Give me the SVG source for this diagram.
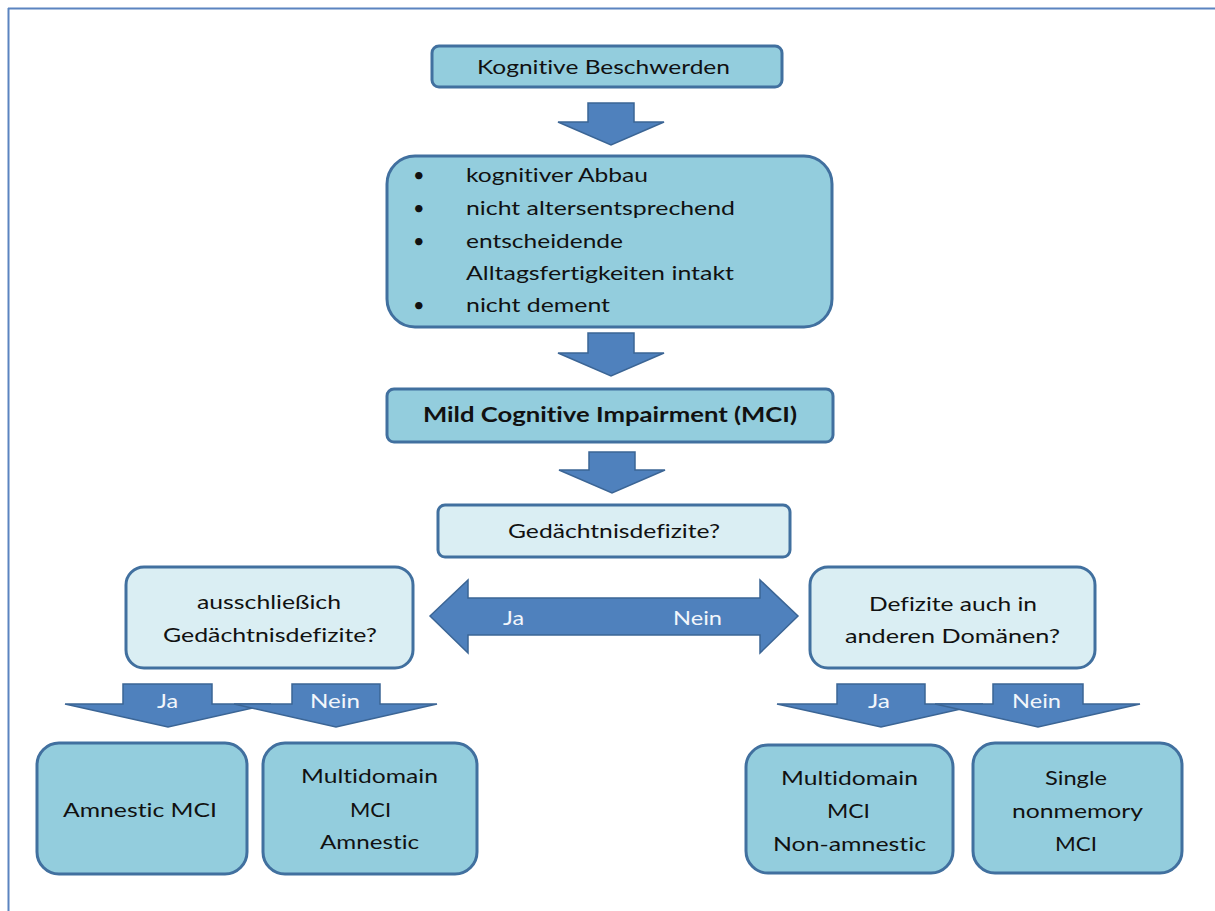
<svg xmlns="http://www.w3.org/2000/svg" width="1215" height="911" viewBox="0 0 1215 911">
<style>
  .box{fill:#93cddd;stroke:#41709f;stroke-width:3}
  .q{fill:#daeef3;stroke:#41709f;stroke-width:3}
  .arr{fill:#4f81bd;stroke:#3b6595;stroke-width:1.5;stroke-linejoin:miter}
  text{font-family:Lato,"Open Sans","Liberation Sans",sans-serif;font-size:20px;fill:#111;font-variant-ligatures:none;font-feature-settings:"liga" 0}
  .b{font-weight:bold}
  .w{fill:#f2f6fb;font-size:19px}
</style>
<rect x="0" y="0" width="1215" height="911" fill="#ffffff"/>
<g id="frame">
  <line x1="8" y1="8.5" x2="1215" y2="8.5" stroke="#5b84c0" stroke-width="2"/>
  <line x1="8.5" y1="8" x2="8.5" y2="911" stroke="#5b84c0" stroke-width="2"/>
</g>
<g id="connectors">
  <path class="arr" d="M588,103 H634 V122 H664 L611,145 L558,122 H588 Z"/>
  <path class="arr" d="M588,333 H634 V353 H664 L611,376 L558,353 H588 Z"/>
  <path class="arr" d="M589,452 H635 V470 H665 L612,493 L559,470 H589 Z"/>
  <path class="arr" d="M430,616 L468,580 V598 H760 V580 L798,616 L760,653 V635 H468 V653 Z"/>
  <text class="w" x="503" y="625" textLength="21" lengthAdjust="spacingAndGlyphs">Ja</text>
  <text class="w" x="673" y="625" textLength="49" lengthAdjust="spacingAndGlyphs">Nein</text>
  <path class="arr" d="M123,684 H212 V704 H271 L168,727 L65,704 H123 Z"/>
  <path class="arr" d="M292,684 H380 V704 H437 L336,727 L234,704 H292 Z"/>
  <text class="w" x="157" y="708" textLength="21" lengthAdjust="spacingAndGlyphs">Ja</text>
  <text class="w" x="310" y="708" textLength="50" lengthAdjust="spacingAndGlyphs">Nein</text>
  <path class="arr" d="M837,684 H925 V704 H983 L881,727 L777,704 H837 Z"/>
  <path class="arr" d="M993,684 H1083 V704 H1140 L1038,727 L935,704 H993 Z"/>
  <text class="w" x="868" y="708" textLength="22" lengthAdjust="spacingAndGlyphs">Ja</text>
  <text class="w" x="1012" y="708" textLength="49" lengthAdjust="spacingAndGlyphs">Nein</text>
</g>
<g id="n1">
  <rect class="box" x="432" y="46" width="350" height="41" rx="7"/>
  <text x="477" y="74" textLength="253" lengthAdjust="spacingAndGlyphs">Kognitive Beschwerden</text>
</g>
<g id="n2">
  <rect class="box" x="387" y="156" width="445" height="171" rx="28"/>
  <text x="413" y="182">•</text>
  <text x="466" y="182" textLength="182" lengthAdjust="spacingAndGlyphs">kognitiver Abbau</text>
  <text x="413" y="215">•</text>
  <text x="466" y="215" textLength="269" lengthAdjust="spacingAndGlyphs">nicht altersentsprechend</text>
  <text x="413" y="248">•</text>
  <text x="466" y="248" textLength="157" lengthAdjust="spacingAndGlyphs">entscheidende</text>
  <text x="466" y="280" textLength="268" lengthAdjust="spacingAndGlyphs">Alltagsfertigkeiten intakt</text>
  <text x="413" y="312">•</text>
  <text x="466" y="312" textLength="144" lengthAdjust="spacingAndGlyphs">nicht dement</text>
</g>
<g id="n3">
  <rect class="box" x="387" y="389" width="446" height="53" rx="7"/>
  <text class="b" x="423" y="422" textLength="374" lengthAdjust="spacingAndGlyphs">Mild Cognitive Impairment (MCI)</text>
</g>
<g id="n4">
  <rect class="q" x="438" y="505" width="352" height="52" rx="7"/>
  <text x="508" y="538" textLength="212" lengthAdjust="spacingAndGlyphs">Gedächtnisdefizite?</text>
</g>
<g id="n5">
  <rect class="q" x="126" y="567" width="287" height="101" rx="18"/>
  <text x="197" y="609" textLength="144" lengthAdjust="spacingAndGlyphs">ausschließich</text>
  <text x="163" y="642" textLength="214" lengthAdjust="spacingAndGlyphs">Gedächtnisdefizite?</text>
</g>
<g id="n6">
  <rect class="q" x="810" y="567" width="285" height="101" rx="18"/>
  <text x="869" y="611" textLength="168" lengthAdjust="spacingAndGlyphs">Defizite auch in</text>
  <text x="845" y="643" textLength="215" lengthAdjust="spacingAndGlyphs">anderen Domänen?</text>
</g>
<g id="n7">
  <rect class="box" x="37" y="743" width="210" height="131" rx="22"/>
  <text x="63" y="817" textLength="154" lengthAdjust="spacingAndGlyphs">Amnestic MCI</text>
</g>
<g id="n8">
  <rect class="box" x="263" y="743" width="214" height="131" rx="22"/>
  <text x="301" y="783" textLength="137" lengthAdjust="spacingAndGlyphs">Multidomain</text>
  <text x="350" y="817" textLength="41" lengthAdjust="spacingAndGlyphs">MCI</text>
  <text x="320" y="849" textLength="99" lengthAdjust="spacingAndGlyphs">Amnestic</text>
</g>
<g id="n9">
  <rect class="box" x="746" y="745" width="207" height="128" rx="22"/>
  <text x="781" y="785" textLength="137" lengthAdjust="spacingAndGlyphs">Multidomain</text>
  <text x="827" y="818" textLength="43" lengthAdjust="spacingAndGlyphs">MCI</text>
  <text x="773" y="851" textLength="153" lengthAdjust="spacingAndGlyphs">Non-amnestic</text>
</g>
<g id="n10">
  <rect class="box" x="973" y="743" width="209" height="130" rx="22"/>
  <text x="1045" y="785" textLength="62" lengthAdjust="spacingAndGlyphs">Single</text>
  <text x="1012" y="818" textLength="131" lengthAdjust="spacingAndGlyphs">nonmemory</text>
  <text x="1055" y="851" textLength="42" lengthAdjust="spacingAndGlyphs">MCI</text>
</g>
</svg>
